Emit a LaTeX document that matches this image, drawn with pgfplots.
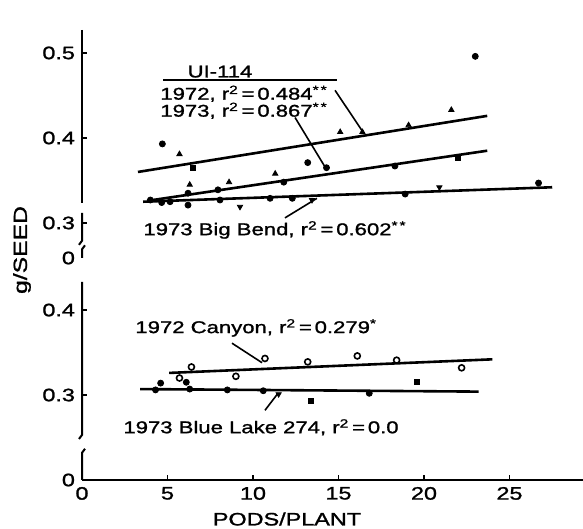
\documentclass[border=0pt]{standalone}
\usepackage{fontspec}
\setmainfont{Liberation Sans}[FakeStretch=1.3, FakeBold=1.3]
\usepackage{pgfplots}
\pgfplotsset{compat=1.18}

\pgfplotsset{
  common/.style={
    scale only axis, width=250.5pt,
    xmin=0, xmax=29.3, clip=false,
    axis lines*=left, axis line style={draw=none},
    tick align=inside, major tick length=2.5pt,
    tick style={black, line width=0.8pt},
    tick label style={font=\fontsize{9}{10}\selectfont},
    extra tick style={major tick length=0pt},
  },
  fit/.style={black, line width=1.3pt, no marks},
  pts/.style={black, only marks, mark size=1.5pt},
}
\tikzset{
  lbl/.style={font=\fontsize{8.5}{10}\selectfont, inner sep=0pt},
  lead/.style={black, line width=0.8pt},
}
\newcommand{\rsq}{r\textsuperscript{2}\,=\,}
\newcommand{\stars}{\textsuperscript{*\,*}}

\begin{document}
\begin{tikzpicture}
\useasboundingbox (0,0) rectangle (291.5pt,264.5pt);

% ---------------- top panel: UI-114 and Big Bend
\begin{axis}[common,
    at={(41pt,135.5pt)}, anchor=south west, height=114pt,
    ymin=0.2588, ymax=0.527,
    xtick=\empty,
    ytick={0.3,0.4,0.5}, yticklabels={0.3,0.4,0.5},
    extra y ticks={0.2588}, extra y tick labels={0},
  ]
  % axis line with break
  \draw[line width=1pt] (axis cs:0,0.527) -- (axis cs:0,0.3235);
  \draw[line width=1pt] (axis cs:0,0.3118) -- (axis cs:0,0.2790) -- ++(-1.5pt,-2pt);
  \draw[line width=1pt] (axis cs:0,0.2588) -- (axis cs:0,0.2690) -- ++(1.5pt,2pt);

  % 1972 UI-114
  \addplot[fit] coordinates {(3.27,0.360) (23.7,0.426)};
  \addplot[pts, mark=triangle*] coordinates {
    (5.7,0.381) (6.3,0.345) (8.6,0.348) (11.3,0.358)
    (15.1,0.407) (16.4,0.407) (19.1,0.415) (21.6,0.433)};
  % 1973 UI-114
  \addplot[fit] coordinates {(3.8,0.326) (23.7,0.385)};
  \addplot[pts, mark=*] coordinates {
    (4.7,0.393) (6.2,0.335) (7.95,0.339) (11.8,0.348) (13.2,0.371)
    (14.3,0.365) (18.3,0.367) (23.0,0.496)};
  \addplot[pts, mark=square*, mark size=1.3pt] coordinates {(6.5,0.365) (22.0,0.377)};
  % 1973 Big Bend
  \addplot[fit] coordinates {(3.57,0.325) (27.5,0.342)};
  \addplot[pts, mark=*] coordinates {
    (4.0,0.327) (4.66,0.324) (5.15,0.325) (6.2,0.321) (8.07,0.327)
    (11.0,0.329) (12.3,0.329) (18.9,0.334) (26.7,0.347)};
  \addplot[pts, mark=triangle*, mark options={rotate=180}] coordinates {
    (9.24,0.319) (13.45,0.327) (20.9,0.342)};

  % labels
  \node[lbl] at (axis cs:8.07,0.478) {UI-114};
  \draw[line width=0.9pt] (axis cs:4.74,0.468) -- (axis cs:14.9,0.468);
  \node[lbl, anchor=west] at (axis cs:4.56,0.452) {1972, \rsq 0.484\stars};
  \node[lbl, anchor=west] at (axis cs:4.56,0.432) {1973, \rsq 0.867\stars};
  \draw[lead] (axis cs:14.8,0.456) -- (axis cs:16.43,0.407);
  \draw[lead] (axis cs:12.46,0.424) -- (axis cs:14.33,0.362);
  \node[lbl, anchor=west] at (axis cs:3.57,0.2918) {1973 Big Bend, \rsq 0.602\stars};
  \draw[lead] (axis cs:11.87,0.306) -- (axis cs:13.74,0.329);
\end{axis}

% ---------------- bottom panel: Canyon and Blue Lake 274
\begin{axis}[common,
    at={(41pt,24.5pt)}, anchor=south west, height=99pt,
    ymin=0.2, ymax=0.433,
    xtick={5,10,15,20,25}, xticklabels={5,10,15,20,25},
    extra x ticks={0}, extra x tick labels={0},
    ytick={0.3,0.4}, yticklabels={0.3,0.4},
    extra y ticks={0.2}, extra y tick labels={0},
  ]
  \draw[line width=1pt] (axis cs:0,0.2) -- (axis cs:29.3,0.2);
  \draw[line width=1pt] (axis cs:0,0.433) -- (axis cs:0,0.2530) -- ++(-1.5pt,-2pt);
  \draw[line width=1pt] (axis cs:0,0.2) -- (axis cs:0,0.2320) -- ++(1.5pt,2pt);

  % 1972 Canyon
  \addplot[fit] coordinates {(5.1,0.326) (24.0,0.342)};
  \addplot[pts, mark=o, mark options={line width=0.8pt}] coordinates {
    (5.7,0.320) (6.4,0.333) (9.0,0.322) (10.7,0.343) (13.2,0.339)
    (16.1,0.346) (18.4,0.341) (22.2,0.332)};
  % 1973 Blue Lake 274
  \addplot[fit] coordinates {(3.4,0.307) (23.2,0.304)};
  \addplot[pts, mark=*] coordinates {
    (4.3,0.306) (4.6,0.314) (6.1,0.315) (6.3,0.307) (8.5,0.306)
    (10.6,0.305) (16.8,0.302)};
  \addplot[pts, mark=square*, mark size=1.3pt] coordinates {(13.4,0.293) (19.6,0.315)};
  \addplot[pts, mark=triangle*, mark options={rotate=180}] coordinates {(11.5,0.301)};

  \node[lbl, anchor=west] at (axis cs:3.1,0.379) {1972 Canyon, \rsq 0.279\textsuperscript{*}};
  \draw[lead] (axis cs:8.77,0.361) -- (axis cs:10.53,0.338);
  \node[lbl, anchor=west] at (axis cs:2.4,0.262) {1973 Blue Lake 274, \rsq 0.0};
  \draw[lead] (axis cs:10.7,0.282) -- (axis cs:11.46,0.302);
\end{axis}

\node[rotate=90, font=\fontsize{9.5}{10}\selectfont] at (11pt,139.5pt) {g/SEED};
\node[font=\fontsize{9}{10}\selectfont] at (143.5pt,5pt) {PODS/PLANT};
\end{tikzpicture}
\end{document}
